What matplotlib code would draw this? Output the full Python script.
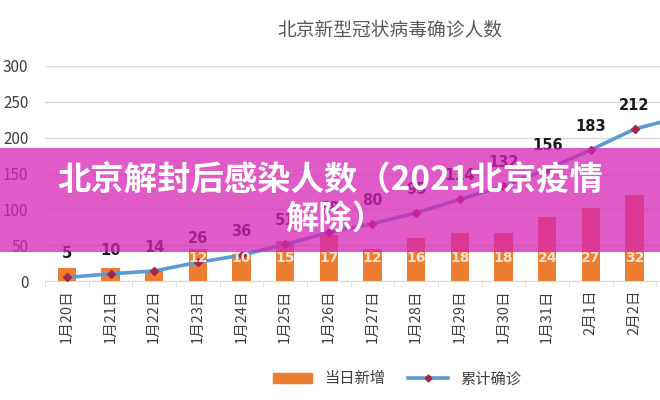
import matplotlib.pyplot as plt
import numpy as np
from matplotlib.patches import Rectangle
from matplotlib.lines import Line2D

plt.rcParams['font.family'] = ['Noto Sans CJK SC', 'DejaVu Sans']

# data (the last day is cut off at the right edge)
dates = ["1月20日", "1月21日", "1月22日", "1月23日", "1月24日", "1月25日", "1月26日",
         "1月27日", "1月28日", "1月29日", "1月30日", "1月31日", "2月1日", "2月2日", "2月3日"]
cumulative = [5, 10, 14, 26, 36, 51, 68, 80, 95, 114, 132, 156, 183, 212, 228]
daily_new = [5, 5, 4, 12, 10, 15, 17, 12, 16, 18, 18, 24, 27, 32, 16]
daily_labels = ["", "", "", "12", "10", "15", "17", "12", "16", "18", "18", "24", "27", "32", ""]
n_visible = 14  # categories whose labels are inside the picture

x = np.arange(len(dates))

fig = plt.figure(figsize=(6.6, 4), dpi=100)
fig.patch.set_facecolor("white")

# main axis (cumulative), extends past the right edge like the cropped original
ax = fig.add_axes([45 / 660, 119 / 400, 655 / 660, 215 / 400])
# bar axis underneath (secondary scale, hidden)
axb = ax.twinx()
ax.set_zorder(2)
axb.set_zorder(1)
ax.patch.set_visible(False)

# bars
axb.bar(x, daily_new, width=0.42, color="#ED7D31", zorder=2)
axb.set_ylim(0, 80)
axb.set_yticks(np.linspace(0, 80, 7))
axb.yaxis.grid(True, color="#D9D9D9", linewidth=1)
axb.set_axisbelow(True)
axb.tick_params(right=False, labelright=False)
for s in axb.spines.values():
    s.set_visible(False)

# line
ax.plot(x, cumulative, color="#5B9BD5", linewidth=2.6, marker="D",
        markersize=4.5, markerfacecolor="#A3264B", markeredgecolor="#A3264B", zorder=3)
for xi, v in zip(x[:n_visible], cumulative[:n_visible]):
    ax.annotate(str(v), (xi, v), xytext=(0, 17), textcoords="offset points",
                ha="center", va="center", fontsize=10.5, fontweight="bold",
                color="#1A1A1A", family="DejaVu Sans")
for xi, lab in zip(x, daily_labels):
    if lab:
        ax.text(xi, 32, lab, ha="center", va="center", fontsize=10,
                fontweight="bold", color="#FBE3D2", family="DejaVu Sans", zorder=4)

ax.set_xlim(-0.5, len(dates) - 0.5)
ax.set_ylim(0, 300)
ax.set_yticks(range(0, 301, 50))
ax.set_xticks(x[:n_visible])
ax.set_xticklabels(dates[:n_visible], rotation=90, fontsize=10.5, color="#404040")
ax.set_xticks(np.arange(-0.5, len(dates), 1), minor=True)
ax.tick_params(axis="x", which="major", length=0, pad=6)
ax.tick_params(axis="x", which="minor", length=4, color="#D9D9D9")
ax.tick_params(axis="y", length=0, labelsize=11, labelcolor="#404040", pad=12)
for name, s in ax.spines.items():
    s.set_visible(name == "bottom")
ax.spines["bottom"].set_color("#D9D9D9")

# title
fig.text(390 / 660, 1 - 30 / 400, "北京新型冠状病毒确诊人数", ha="center", va="center",
         fontsize=13.5, color="#595959")

# legend
handles = [Rectangle((0, 0), 1, 1, color="#ED7D31"),
           Line2D([0], [0], color="#5B9BD5", linewidth=2.6, marker="D", markersize=3.5,
                  markerfacecolor="#A3264B", markeredgecolor="#A3264B")]
fig.legend(handles, ["当日新增", "累计确诊"], loc="center", bbox_to_anchor=(397 / 660, 1 - 379 / 400),
           ncol=2, frameon=False, fontsize=11, handlelength=2.6, handleheight=0.6,
           columnspacing=1.5, labelcolor="#404040")

# pink banner overlay
fig.add_artist(Rectangle((0, 1 - 252 / 400), 1, 104 / 400, transform=fig.transFigure,
                         facecolor="#D623B6", alpha=0.75, edgecolor="none", zorder=10))
fig.text(330 / 660, 1 - 180 / 400, "北京解封后感染人数（2021北京疫情", ha="center", va="center",
         fontsize=24, fontweight="bold", color="white", zorder=11)
fig.text(335 / 660, 1 - 220 / 400, "解除）", ha="center", va="center",
         fontsize=24, fontweight="bold", color="white", zorder=11)

fig.savefig("out.png", dpi=100)
